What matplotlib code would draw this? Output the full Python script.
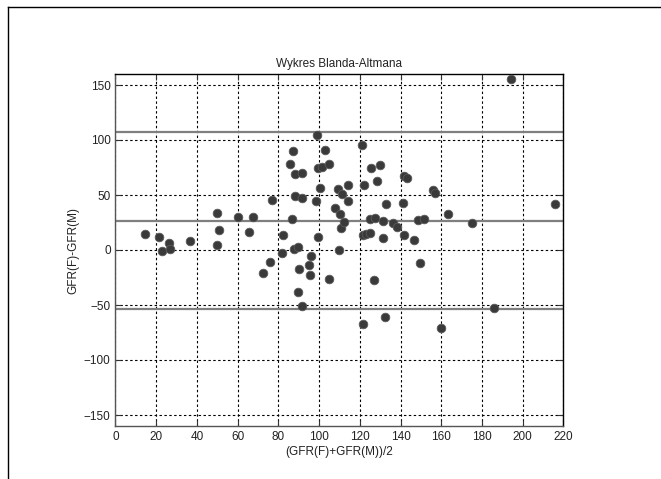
import matplotlib
matplotlib.use("Agg")
import matplotlib.pyplot as plt
from matplotlib.lines import Line2D

# Mean of the two measurements (x) and the difference (y)
mean_gfr = [14.3, 21.5, 22.9, 26.4, 27.0, 36.5, 49.8, 50.7, 49.6, 60.0,
            65.6, 67.5, 72.2, 76.1, 76.9, 81.7, 82.5, 85.7, 86.9, 87.0,
            87.8, 88.1, 88.3, 89.4, 89.6, 89.9, 91.6, 91.8, 91.8, 95.3,
            95.2, 96.1, 98.4, 98.9, 99.6, 99.6, 100.6, 101.4, 103.0, 104.7,
            104.8, 107.6, 109.1, 110.0, 110.6, 110.4, 111.0, 112.0, 114.1, 114.4,
            121.2, 121.5, 121.7, 121.8, 123.1, 124.8, 125.2, 125.4, 126.8, 127.2,
            128.3, 129.8, 131.3, 131.3, 132.1, 132.7, 136.5, 138.3, 141.1, 141.6,
            141.8, 143.0, 146.8, 148.4, 149.6, 151.4, 156.1, 157.1, 159.9, 163.1,
            174.9, 186.0, 194.2, 215.6]
diff_gfr = [14.8, 12.1, -0.6, 6.1, 0.6, 8.5, 33.4, 18.5, 4.3, 30.0,
            16.4, 30.0, -21.0, -10.8, 45.5, -2.3, 13.6, 78.5, 28.2, 90.0,
            0.6, 69.1, 49.4, -37.9, 2.3, -17.3, 47.0, 69.7, -50.9, -22.5,
            -14.0, -5.5, 44.8, 104.5, 12.1, 74.8, 56.1, 75.7, 90.9, 78.2,
            -26.7, 38.2, 55.8, -0.3, 20.0, 32.5, 51.2, 25.7, 58.8, 44.6,
            95.5, 13.6, -67.3, 58.8, 14.5, 15.6, 28.2, 74.5, -27.6, 28.8,
            62.7, 77.0, 26.0, 11.0, -61.2, 41.8, 24.3, 21.2, 42.4, 13.8,
            67.5, 65.2, 9.0, 27.3, -11.5, 28.5, 54.5, 52.1, -70.9, 32.7,
            24.3, -53.0, 155.2, 41.8]

mean_diff = 26.6
upper_loa = 107.2
lower_loa = -53.3

x_ticks = list(range(0, 221, 20))
y_ticks = list(range(-150, 151, 50))

plt.rcParams['font.family'] = ['Liberation Sans', 'DejaVu Sans']

fig = plt.figure(figsize=(6.61, 4.79), dpi=100)
fig.patch.set_facecolor('white')

# window frame lines (top and left)
fig.add_artist(Line2D([8/661, 8/661], [0, 1 - 7/479], color='black', lw=1.0,
                      transform=fig.transFigure))
fig.add_artist(Line2D([8/661, 1], [1 - 7/479, 1 - 7/479], color='black', lw=1.0,
                      transform=fig.transFigure))

ax = fig.add_axes([115.5/661, 1 - 426/479, 448/661, 352/479])
ax.set_xlim(0, 220)
ax.set_ylim(-160, 160)
ax.set_xticks(x_ticks)
ax.set_yticks(y_ticks)
ax.grid(True, color='black', linestyle=(0, (2.2, 2.2)), linewidth=0.8)
ax.set_axisbelow(True)

for yv in (upper_loa, mean_diff, lower_loa):
    ax.axhline(yv, color='#7f7f7f', linewidth=1.6, zorder=2)

ax.plot(mean_gfr, diff_gfr, linestyle='none', marker='o', markersize=6.2,
        markerfacecolor='#3a3a3a', markeredgecolor='#5a5a5a', markeredgewidth=0.6,
        zorder=3)

for side, sp in ax.spines.items():
    sp.set_linewidth(1.0)
    sp.set_color('black' if side in ('top', 'right') else '#555555')

ax.tick_params(direction='in', length=4, width=0.8, labelsize=8.5,
               top=True, right=True, colors='#333333', labelcolor='#222222')

ax.set_title('Wykres Blanda-Altmana', fontsize=8.5, color='#222222', pad=5)
ax.set_xlabel('(GFR(F)+GFR(M))/2', fontsize=8.5, color='#222222', labelpad=2)
ax.set_ylabel('GFR(F)-GFR(M)', fontsize=8.5, color='#222222', labelpad=3)

fig.savefig('out.png', dpi=100, facecolor='white')
